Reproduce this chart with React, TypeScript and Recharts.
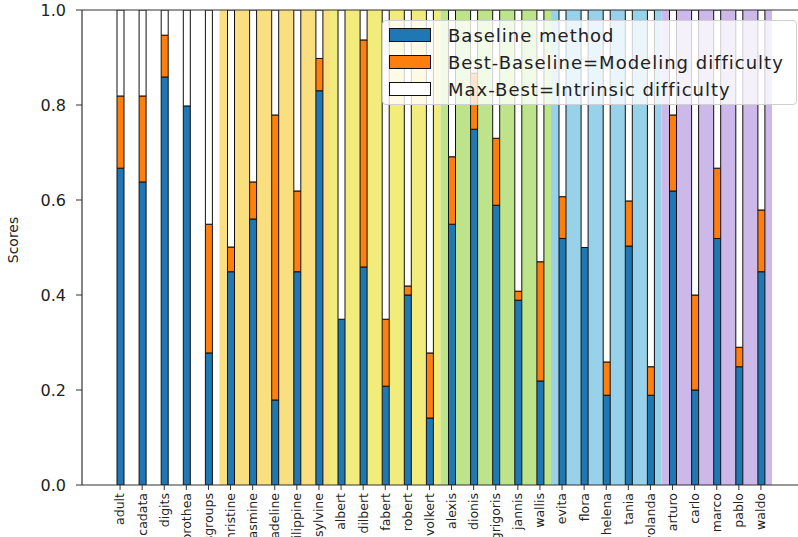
import React from "react";
import {
  BarChart,
  Bar,
  XAxis,
  YAxis,
  ReferenceArea,
  ReferenceLine,
} from "recharts";

const categories = [
  "adult", "cadata", "digits", "dorothea", "newsgroups",
  "christine", "jasmine", "madeline", "philippine", "sylvine",
  "albert", "dilbert", "fabert", "robert", "volkert",
  "alexis", "dionis", "grigoris", "jannis", "wallis",
  "evita", "flora", "helena", "tania", "yolanda",
  "arturo", "carlo", "marco", "pablo", "waldo",
];

// baseline method score
const baseline = [
  0.667, 0.638, 0.859, 0.798, 0.278,
  0.449, 0.56, 0.179, 0.449, 0.83,
  0.349, 0.459, 0.208, 0.4, 0.141,
  0.549, 0.749, 0.589, 0.389, 0.219,
  0.519, 0.5, 0.189, 0.503, 0.189,
  0.619, 0.2, 0.519, 0.249, 0.449,
];

// best method score
const best = [
  0.819, 0.819, 0.947, 0.798, 0.549,
  0.501, 0.638, 0.779, 0.619, 0.898,
  0.349, 0.937, 0.349, 0.419, 0.278,
  0.691, 0.867, 0.73, 0.408, 0.47,
  0.607, 0.5, 0.259, 0.598, 0.249,
  0.779, 0.4, 0.667, 0.29, 0.579,
];

const maxScore = 1;

const yTicks = [0, 0.2, 0.4, 0.6, 0.8, 1.0];

const bands = [
  { from: "christine", to: "sylvine", color: "#f9df80" },
  { from: "albert", to: "volkert", color: "#f2ec7d" },
  { from: "alexis", to: "wallis", color: "#bde48b" },
  { from: "evita", to: "yolanda", color: "#97d1ea" },
  { from: "arturo", to: "waldo", color: "#cdb8ea" },
];

const seriesInfo = [
  { key: "baseline", name: "Baseline method", color: "#1f77b4" },
  { key: "modeling", name: "Best-Baseline=Modeling difficulty", color: "#ff7f0e" },
  { key: "intrinsic", name: "Max-Best=Intrinsic difficulty", color: "#ffffff" },
];

const data = categories.map((name, i) => ({
  name,
  baseline: baseline[i],
  modeling: best[i] - baseline[i],
  intrinsic: maxScore - best[i],
}));

const FONT = "'DejaVu Sans', sans-serif";

function XTick(props: any) {
  const { x, y, payload } = props;
  return (
    <text
      x={x}
      y={y}
      transform={`rotate(-90, ${x}, ${y})`}
      textAnchor="end"
      dy="0.35em"
      fontSize={12.5}
      fontFamily={FONT}
      fill="#222"
    >
      {payload.value}
    </text>
  );
}

function LegendBox() {
  return (
    <div
      style={{
        position: "absolute",
        left: 382,
        top: 20,
        width: 413,
        height: 83,
        background: "rgba(255,255,255,0.8)",
        border: "1px solid #d0d0d0",
        borderRadius: 4,
        fontFamily: FONT,
        fontSize: 18,
        letterSpacing: 1,
        color: "#222",
      }}
    >
      {seriesInfo.map((s, i) => (
        <div
          key={s.key}
          style={{
            position: "absolute",
            left: 6,
            top: 6 + i * 27,
            height: 16,
            display: "flex",
            alignItems: "center",
          }}
        >
          <span
            style={{
              display: "inline-block",
              width: 40,
              height: 12,
              background: s.color,
              border: "1px solid #111",
              marginRight: 17,
            }}
          />
          <span style={{ whiteSpace: "nowrap" }}>{s.name}</span>
        </div>
      ))}
    </div>
  );
}

export default function App() {
  return (
    <div
      style={{
        position: "absolute",
        left: 0,
        top: 0,
        width: 798,
        height: 537,
        overflow: "hidden",
        background: "#fff",
      }}
    >
      <BarChart
        width={810}
        height={537}
        data={data}
        margin={{ top: 10, right: 11, bottom: 0, left: 0 }}
        barSize={7}
      >
        {bands.map((b) => (
          <ReferenceArea
            key={b.from}
            x1={b.from}
            x2={b.to}
            fill={b.color}
            fillOpacity={1}
            stroke="none"
            ifOverflow="visible"
          />
        ))}
        <XAxis
          dataKey="name"
          interval={0}
          height={52}
          padding={{ left: 27, right: 27 }}
          tick={<XTick />}
          tickSize={5}
          tickMargin={3}
          axisLine={{ stroke: "#333", strokeWidth: 1.2 }}
          tickLine={{ stroke: "#333" }}
        />
        <YAxis
          width={82}
          domain={[0, 1]}
          ticks={yTicks}
          tickFormatter={(v: number) => v.toFixed(1)}
          tick={{ fontSize: 16, fontFamily: FONT, fill: "#222" }}
          tickSize={6}
          tickMargin={10}
          axisLine={{ stroke: "#333", strokeWidth: 1.2 }}
          tickLine={{ stroke: "#333" }}
          allowDataOverflow
          label={() => (
            <text
              x={13}
              y={240}
              transform="rotate(-90, 13, 240)"
              textAnchor="middle"
              dominantBaseline="central"
              fontSize={14}
              fontFamily={FONT}
              fill="#222"
            >
              Scores
            </text>
          )}
        />
        <ReferenceLine y={1} stroke="#333" strokeWidth={1.2} ifOverflow="visible" />
        {seriesInfo.map((s) => (
          <Bar
            key={s.key}
            dataKey={s.key}
            name={s.name}
            stackId="a"
            fill={s.color}
            stroke="#111"
            strokeWidth={1}
            isAnimationActive={false}
          />
        ))}
      </BarChart>
      <LegendBox />
    </div>
  );
}
